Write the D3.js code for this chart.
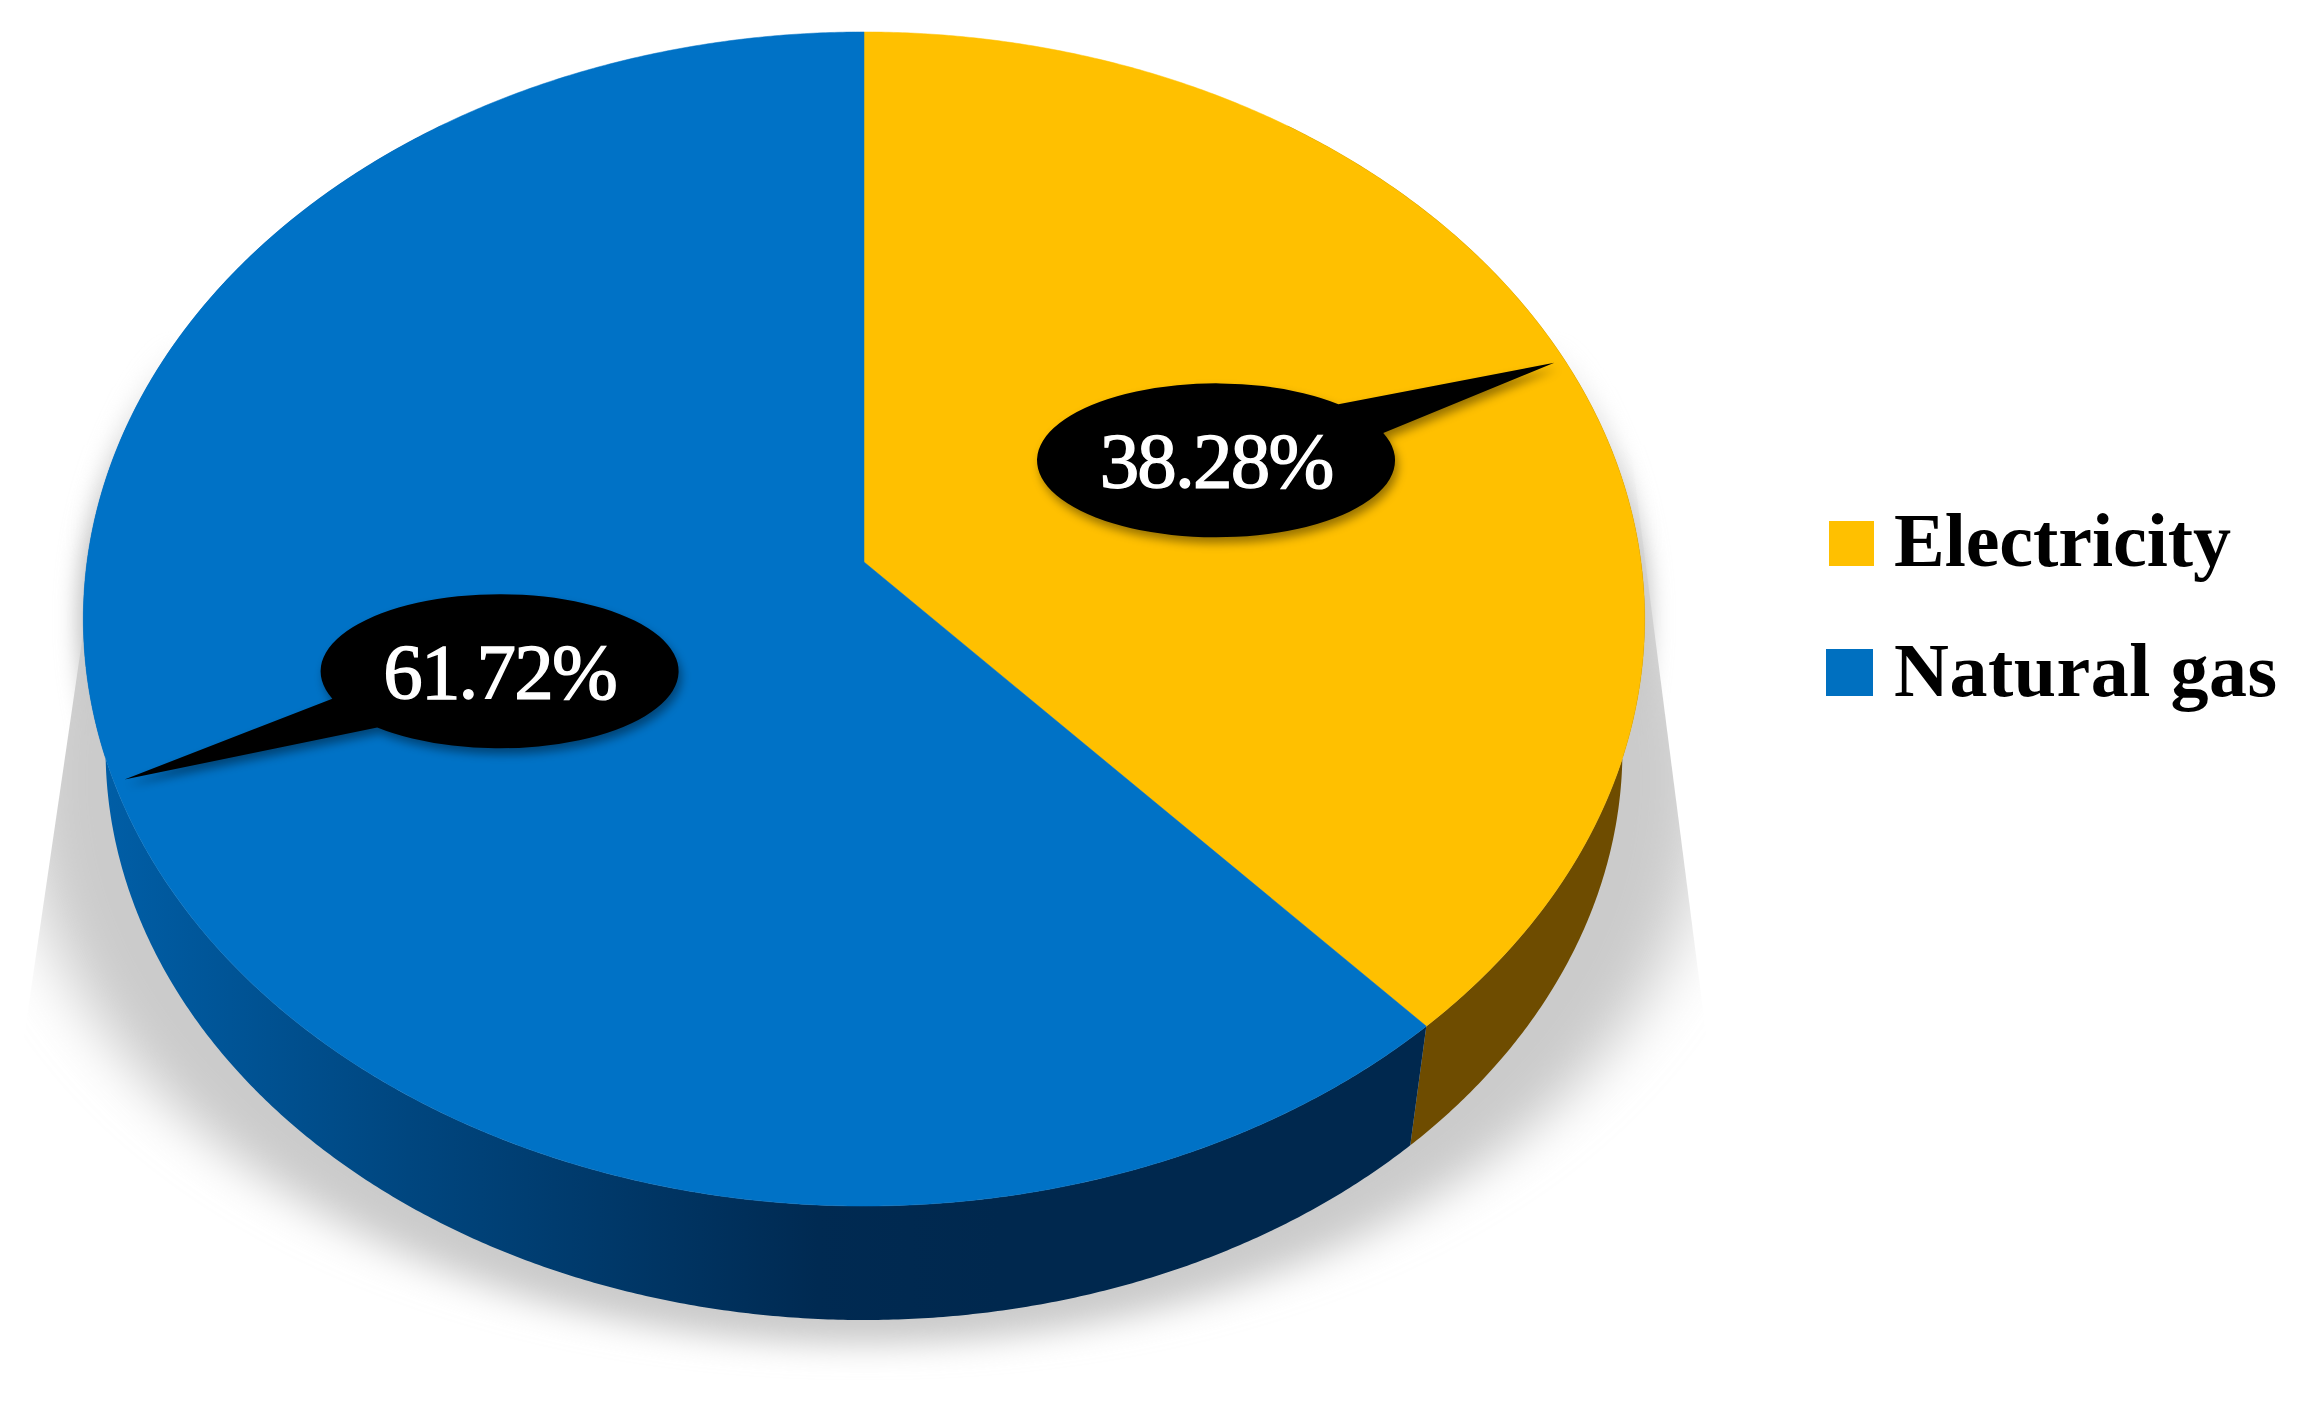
<!DOCTYPE html>
<html>
<head>
<meta charset="utf-8">
<script src="https://cdnjs.cloudflare.com/ajax/libs/d3/7.8.5/d3.min.js"></script>
<style>
html,body{margin:0;padding:0;background:#fff}
svg{display:block}
</style>
</head>
<body>
<svg id="chart" width="2300" height="1406" viewBox="0 0 2300 1406"></svg>
<script>
const categories = ["Electricity", "Natural gas"];
const shares = [38.28, 61.72];
const valueLabels = ["38.28%", "61.72%"];
const topColors = ["#FFC000", "#0072C6"];
const legendColors = ["#FFC000", "#0070C0"];

// layout of the tilted disc (projective view of a unit circle)
const apex = {x: 864, y: 562};
const persp = {a: 581.5, c: -0.0971, d: 777};
const vanish = {y: 5206, s: 0.9715};
const calloutShiftY = [0, 4];
const swatchX = [1829, 1826];
const swatchSize = [45, 47];
const legendTextWidth = [337, 383];

const svg = d3.select("#chart");
const defs = svg.append("defs");

function project(theta, r) {
  const u = r * Math.sin(theta), v = -r * Math.cos(theta);
  const w = 1 + persp.c * v;
  return [apex.x + persp.d * u / w, apex.y + persp.a * v / w];
}
function lower(p) {
  return [apex.x + (p[0] - apex.x) * vanish.s, vanish.y + (p[1] - vanish.y) * vanish.s];
}
const arcs = d3.pie().sort(null).value(d => d).startAngle(0).endAngle(2 * Math.PI)(shares);
const line = d3.line();
const samples = (a0, a1) => {
  const n = Math.max(2, Math.ceil(Math.abs(a1 - a0) / 0.006));
  return d3.range(n + 1).map(i => a0 + (a1 - a0) * i / n);
};
const discPts = samples(0, 2 * Math.PI).map(t => project(t, 1));

// ---- cast shadow
const blur = defs.append("filter").attr("id", "soft")
  .attr("x", "-10%").attr("y", "-10%").attr("width", "120%").attr("height", "120%");
blur.append("feGaussianBlur").attr("stdDeviation", "34 15");
const halo = defs.append("filter").attr("id", "halo")
  .attr("x", "-5%").attr("y", "-5%").attr("width", "110%").attr("height", "110%");
halo.append("feGaussianBlur").attr("stdDeviation", 11);
const fade = defs.append("linearGradient").attr("id", "haloFade")
  .attr("gradientUnits", "userSpaceOnUse")
  .attr("x1", 0).attr("x2", 0).attr("y1", 330).attr("y2", 560);
fade.append("stop").attr("offset", 0).attr("stop-color", "#000");
fade.append("stop").attr("offset", 1).attr("stop-color", "#fff");
defs.append("mask").attr("id", "haloMask").attr("maskUnits", "userSpaceOnUse")
  .attr("x", 0).attr("y", 0).attr("width", 2300).attr("height", 1000)
  .append("rect").attr("width", 2300).attr("height", 1000).attr("fill", "url(#haloFade)");

svg.append("g").attr("mask", "url(#haloMask)")
  .append("path").attr("d", line(discPts) + "Z")
  .attr("fill", "#bdbdbd").attr("stroke", "#bdbdbd").attr("stroke-width", 10)
  .attr("filter", "url(#halo)");

defs.append("clipPath").attr("id", "shadowClip").append("path")
  .attr("d", line([[110, 450], [1631, 450], [1754, 1406], [-30, 1406]]) + "Z");
svg.append("g").attr("clip-path", "url(#shadowClip)")
  .append("ellipse")
  .attr("cx", apex.x).attr("cy", 780).attr("rx", 845).attr("ry", 565)
  .attr("fill", "#cbcbcb").attr("filter", "url(#soft)");

// ---- side wall
const sideGrad = defs.append("linearGradient").attr("id", "blueSide")
  .attr("gradientUnits", "userSpaceOnUse")
  .attr("x1", 90).attr("x2", 1000).attr("y1", 0).attr("y2", 0);
[[0, "#005FA8"], [0.35, "#00467F"], [0.8, "#002A52"], [1, "#00284E"]].forEach(s =>
  sideGrad.append("stop").attr("offset", s[0]).attr("stop-color", s[1]));

const sideFills = ["#6E4C00", "url(#blueSide)"];
arcs.forEach((arc, i) => {
  const a0 = Math.max(arc.startAngle, Math.PI * 0.2);
  const a1 = Math.min(arc.endAngle, Math.PI * 1.8);
  const ts = samples(a0, a1);
  const upper = ts.map(t => project(t, 1));
  const bottom = upper.map(lower).reverse();
  svg.append("path")
    .attr("d", line(upper.concat(bottom)) + "Z")
    .attr("fill", sideFills[i]);
});

// ---- top face
arcs.forEach((arc, i) => {
  const pts = samples(arc.startAngle, arc.endAngle).map(t => project(t, 1));
  svg.append("path")
    .attr("d", line([[apex.x, apex.y]].concat(pts)) + "Z")
    .attr("fill", topColors[i])
    .attr("stroke", topColors[i]).attr("stroke-width", 0.5);
});

// ---- callouts
const cs = defs.append("filter").attr("id", "callShadow")
  .attr("x", "-15%").attr("y", "-25%").attr("width", "130%").attr("height", "150%");
cs.append("feDropShadow").attr("dx", 3).attr("dy", 6).attr("stdDeviation", 5)
  .attr("flood-color", "#000").attr("flood-opacity", 0.4);

const bubble = {rx: 179, ry: 77, rCenter: 0.494, rTip: 0.985, halfBase: 13 * Math.PI / 180};
arcs.forEach((arc, i) => {
  const mid = (arc.startAngle + arc.endAngle) / 2;
  const c = project(mid, bubble.rCenter);
  const tip = project(mid, bubble.rTip);
  c[1] += calloutShiftY[i];
  tip[1] += calloutShiftY[i];
  const phi = Math.atan2((tip[1] - c[1]) / bubble.ry, (tip[0] - c[0]) / bubble.rx);
  const on = a => [c[0] + bubble.rx * Math.cos(a), c[1] + bubble.ry * Math.sin(a)];
  const b0 = on(phi - bubble.halfBase), b1 = on(phi + bubble.halfBase);
  const d = `M${tip[0]},${tip[1]} L${b1[0]},${b1[1]} A${bubble.rx},${bubble.ry} 0 1 1 ${b0[0]},${b0[1]} Z`;
  svg.append("path").attr("d", d).attr("fill", "#000").attr("filter", "url(#callShadow)");
  svg.append("text")
    .attr("x", c[0]).attr("y", c[1] + 27)
    .attr("text-anchor", "middle")
    .attr("font-family", "'Liberation Serif', serif")
    .attr("font-size", 79)
    .attr("letter-spacing", -1.8)
    .attr("fill", "#fff").attr("stroke", "#fff").attr("stroke-width", 1.4)
    .text(valueLabels[i]);
});

// ---- legend
const legendY = d3.scalePoint().domain(categories).range([566, 696]);
const legend = svg.selectAll("g.legend").data(categories).join("g").attr("class", "legend");
legend.append("rect")
  .attr("x", (d, i) => swatchX[i]).attr("width", (d, i) => swatchSize[i]).attr("height", (d, i) => swatchSize[i])
  .attr("y", (d, i) => legendY(d) - swatchSize[i])
  .attr("fill", (d, i) => legendColors[i]);
legend.append("text")
  .attr("x", 1894).attr("y", d => legendY(d))
  .attr("font-family", "'Liberation Serif', serif")
  .attr("font-weight", 700)
  .attr("font-size", 76)
  .attr("textLength", (d, i) => legendTextWidth[i])
  .attr("lengthAdjust", "spacing")
  .attr("fill", "#000")
  .text(d => d);
</script>
</body>
</html>
